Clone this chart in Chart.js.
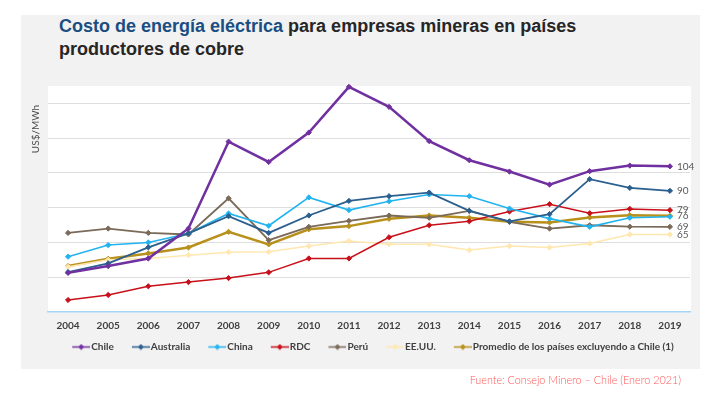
<!DOCTYPE html>
<html>
<head>
<meta charset="utf-8">
<script src="https://cdn.jsdelivr.net/npm/chart.js@4.4.1/dist/chart.umd.min.js"></script>
<style>
  html, body { margin: 0; padding: 0; background: #fff; }
  body { width: 722px; height: 394px; position: relative; overflow: hidden; }
  .panel { position: absolute; left: 21px; top: 15px; width: 679px; height: 354px; background: #f2f2f2; }
  .title { position: absolute; left: 59px; top: 15px; font-family: "Liberation Sans", Arial, sans-serif; font-weight: bold; font-size: 18px; line-height: 23.4px; color: #262626; }
  .title span { color: #1a4d80; }
  .myChart { position: absolute; left: 0; top: 0; }
  .source { position: absolute; right: 41px; top: 373px; font-family: Lato, sans-serif; font-weight: 300; font-size: 10.8px; color: #ff5757; }
</style>
</head>
<body>
<div class="panel"></div>
<div class="title"><span>Costo de energía eléctrica</span> para empresas mineras en países<br>productores de cobre</div>
<canvas class="myChart" width="722" height="394"></canvas>
<div class="source">Fuente: Consejo Minero – Chile (Enero 2021)</div>
<script>
const years = ["2004", "2005", "2006", "2007", "2008", "2009", "2010", "2011", "2012", "2013", "2014", "2015", "2016", "2017", "2018", "2019"];
const chile = [42.5, 46.4, 50.8, 68, 118, 106.3, 123.2, 149.5, 138, 118.3, 107.3, 100.8, 93.3, 101, 104.2, 103.8];
const australia = [43, 48, 57.2, 65.2, 75.1, 65.5, 75.5, 83.9, 86.6, 88.7, 78.2, 72.1, 76.3, 96.4, 91.4, 89.7];
const china = [51.8, 58.5, 60, 65.2, 76.7, 69.6, 85.9, 78.6, 83.7, 87.6, 86.6, 79.5, 73.7, 69, 74.2, 74.8];
const rdc = [26.9, 29.8, 34.8, 37.2, 39.5, 42.8, 50.8, 50.8, 63, 69.9, 72.2, 77.8, 82, 76.8, 79.3, 78.6];
const peru = [65.5, 68, 65.5, 64.6, 85.4, 61.3, 69, 72.4, 75.5, 74.2, 78.2, 71.9, 68, 69.9, 69.1, 69];
const eeuu = [46, 50, 50.8, 52.7, 54.4, 54.6, 57.9, 60.8, 59, 58.9, 55.6, 57.9, 57.1, 59.4, 64.6, 64.6];
const promedio = [46.4, 50.6, 53.7, 57.1, 66.1, 58.9, 67.6, 69.4, 73.6, 75.5, 74.2, 71.9, 71.5, 74.4, 75.7, 75.3];
const endLabels = ["104", "90", "", "79", "69", "65", "76"];

const colors = ["#7030a0", "#2a5f8e", "#22b4f0", "#c8101a", "#7a6a58", "#ffe7b0", "#b8901c"];

// marcador de leyenda: linea con rombo, en la parte derecha de la imagen
function legendMark(color) {
  const c = document.createElement("canvas");
  c.width = 30;
  c.height = 7;
  const g = c.getContext("2d");
  g.strokeStyle = color;
  g.lineWidth = 1.5;
  g.beginPath();
  g.moveTo(12, 3.5);
  g.lineTo(30, 3.5);
  g.stroke();
  g.fillStyle = color;
  g.beginPath();
  g.moveTo(21, 0.5);
  g.lineTo(24, 3.5);
  g.lineTo(21, 6.5);
  g.lineTo(18, 3.5);
  g.closePath();
  g.fill();
  return c;
}
const marks = colors.map(legendMark);

const whiteArea = {
  id: "whiteArea",
  beforeDraw(chart) {
    const { ctx, chartArea: a } = chart;
    ctx.save();
    ctx.fillStyle = "#ffffff";
    ctx.fillRect(a.left, a.top, a.right - a.left + 1, a.bottom - a.top);
    ctx.restore();
  },
};

const extras = {
  id: "extras",
  afterDatasetsDraw(chart) {
    const ctx = chart.ctx;
    ctx.save();
    ctx.font = "10px Lato";
    ctx.fillStyle = "#595959";
    ctx.textBaseline = "middle";
    chart.data.datasets.forEach((ds, i) => {
      if (!endLabels[i]) return;
      const pts = chart.getDatasetMeta(i).data;
      const p = pts[pts.length - 1];
      ctx.fillText(endLabels[i], p.x + 7, p.y);
    });
    // titulo del eje y
    ctx.translate(36, 129);
    ctx.rotate(-Math.PI / 2);
    ctx.textAlign = "center";
    ctx.fillStyle = "#4a4a4a";
    ctx.fillText("US$/MWh", 0, 0);
    ctx.restore();
  },
};

function line(label, data, i, width) {
  return {
    label: label,
    data: data,
    borderColor: colors[i],
    backgroundColor: colors[i],
    borderWidth: width,
    pointStyle: "rectRot",
    pointRadius: 2.6,
    pointBorderWidth: 1,
    tension: 0,
    clip: false,
  };
}

const ctx = document.querySelector(".myChart").getContext("2d");
const myChart = new Chart(ctx, {
  type: "line",
  data: {
    labels: years,
    datasets: [
      line("Chile", chile, 0, 2.5),
      line("Australia", australia, 1, 1.8),
      line("China", china, 2, 1.6),
      line("RDC", rdc, 3, 1.5),
      line("Perú", peru, 4, 1.8),
      line("EE.UU.", eeuu, 5, 1.5),
      line("Promedio de los países excluyendo a Chile (1)", promedio, 6, 2.5),
    ],
  },
  options: {
    responsive: false,
    animation: false,
    layout: { padding: { left: 48, right: 32, top: 86, bottom: 32 } },
    scales: {
      x: {
        offset: true,
        grid: { display: false, drawTicks: false },
        border: { color: "#a6d6f4", width: 1.5 },
        ticks: { padding: 8, color: "#404040", font: { family: "Lato", weight: "bold", size: 10 } },
        afterFit(scale) { scale.height = 20; },
      },
      y: {
        min: 20,
        max: 150,
        ticks: { display: false, stepSize: 20 },
        border: { display: false },
        grid: {
          drawTicks: false,
          color: (c) => (c.tick && (c.tick.value === 20 || c.tick.value === 150) ? "rgba(0,0,0,0)" : "#dedede"),
        },
      },
    },
    plugins: {
      tooltip: { enabled: false },
      legend: {
        position: "bottom",
        labels: {
          usePointStyle: true,
          pointStyleWidth: 22,
          padding: 10,
          color: "#404040",
          font: { family: "Lato", weight: "bold", size: 10 },
          generateLabels(chart) {
            const items = Chart.defaults.plugins.legend.labels.generateLabels(chart);
            items.forEach((it) => { it.pointStyle = marks[it.datasetIndex]; });
            return items;
          },
        },
      },
    },
  },
  plugins: [whiteArea, extras],
});
</script>
</body>
</html>
